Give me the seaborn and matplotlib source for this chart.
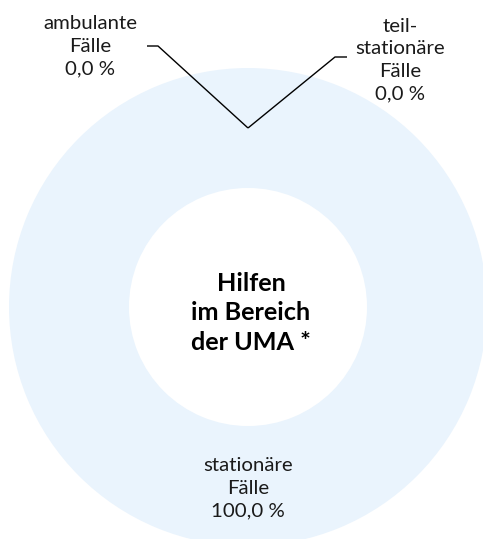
import matplotlib
matplotlib.use("Agg")
import matplotlib.pyplot as plt
import seaborn as sns
import numpy as np

# Shares of cases by type of assistance (percent)
categories = ["ambulante\nFälle", "teil-\nstationäre\nFälle", "stationäre\nFälle"]
shares = [0.0, 0.0, 100.0]
center_title = "Hilfen\nim Bereich\nder UMA *"

sns.set_theme(style="white")
plt.rcParams["font.family"] = ["Lato", "DejaVu Sans"]

W, H = 483, 539
fig = plt.figure(figsize=(W / 100, H / 100), dpi=100)
ax = fig.add_axes([0, 0, 1, 1])

ring_color = "#EAF4FD"
cx, cy = 248, H - 307
r_out, r_in = 239, 119

wedges, _ = ax.pie(
    shares,
    colors=[ring_color] * len(shares),
    startangle=90,
    counterclock=False,
    radius=r_out,
    center=(cx, cy),
    wedgeprops=dict(width=r_out - r_in, edgecolor="none"),
    frame=True,
)
ax.set_xlim(0, W)
ax.set_ylim(0, H)
ax.set_aspect("equal")
ax.axis("off")

def fmt(v):
    return f"{v:.1f}".replace(".", ",") + " %"

fs = 14.7
r_mid = (r_out + r_in) / 2

# label positions (pixel-space layout) and elbow points of leader lines
label_xy = [(90, H - 46), (400, H - 60), (248, H - 488)]
elbows = [((158, H - 46), (147, H - 46)), ((335, H - 57), (347, H - 57)), None]

for w, cat, v, (lx, ly), elb in zip(wedges, categories, shares, label_xy, elbows):
    ang = np.deg2rad((w.theta1 + w.theta2) / 2)
    ax.text(lx, ly, f"{cat}\n{fmt(v)}", ha="center", va="center",
            fontsize=fs, color="#1a1a1a", linespacing=1.4)
    if elb is not None:
        px, py = cx + r_mid * np.cos(ang), cy + r_mid * np.sin(ang)
        xs = [px, elb[0][0], elb[1][0]]
        ys = [py, elb[0][1], elb[1][1]]
        ax.plot(xs, ys, color="black", lw=1.0, solid_capstyle="butt")

ax.text(cx + 3, H - 313, center_title, ha="center", va="center",
        fontsize=18.2, fontweight="bold", color="black", linespacing=1.32)

fig.savefig("out.png", dpi=100, facecolor="white")
